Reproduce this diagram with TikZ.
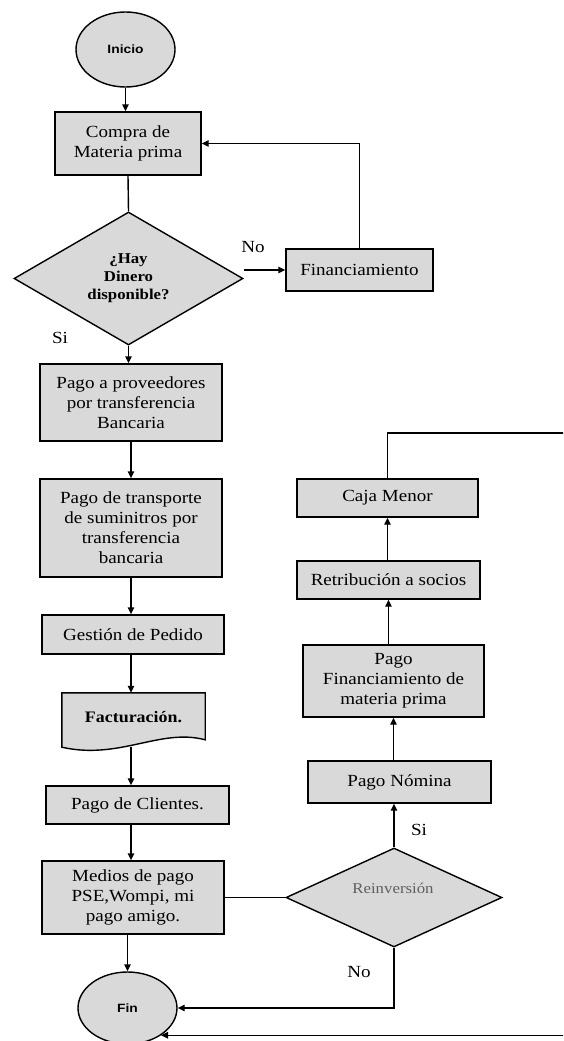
\documentclass[tikz,border=0pt]{standalone}
\usepackage{fontspec}
\setmainfont[FakeStretch=1.12]{Liberation Serif}
\newfontfamily\termfont[FakeStretch=1.15]{Liberation Sans}
\usetikzlibrary{arrows.meta,shapes.geometric}
\definecolor{boxfill}{RGB}{217,217,217}
\definecolor{softtext}{RGB}{95,95,95}
\tikzset{
  base/.style={draw=black, line width=1.4pt, fill=boxfill, inner sep=0pt},
  stepbox/.style={base, rectangle, align=center, font=\fontsize{17}{20}\selectfont},
  terminal/.style={base, ellipse, font=\termfont\bfseries\fontsize{12}{14}\selectfont},
  decision/.style={base, diamond, align=center},
  flow/.style={line width=1.4pt, -{Triangle[length=7pt,width=6.5pt]}},
  link/.style={line width=1.4pt},
  lbl/.style={font=\fontsize{17}{20}\selectfont, inner sep=0pt},
}
\begin{document}
\begin{tikzpicture}[x=1pt,y=-1pt]
\useasboundingbox (0,0) rectangle (563,1041);
\clip (0,0) rectangle (563,1041);
\fill[white] (0,0) rectangle (563,1041);

% main column
\coordinate (col) at (131,0);
\node[terminal, minimum width=99pt, minimum height=75pt] (ini) at (125.5,49.5) {Inicio};
\node[stepbox, minimum width=146pt, minimum height=63pt] (compra) at (128,143.5) {Compra de\\Materia prima};
\node[decision, minimum width=229pt, minimum height=133pt,
      font=\bfseries\fontsize{15}{18}\selectfont] (dia) at (128.5,278.5) {¿Hay\\Dinero\\disponible?};
\node[stepbox, minimum width=147pt, minimum height=42pt] (finan) at (359.5,270) {Financiamiento};
\node[stepbox, minimum width=182pt, minimum height=77pt] (provee) at (131,402.5)
  {Pago a proveedores\\por transferencia\\Bancaria};
\node[stepbox, minimum width=182pt, minimum height=98pt] (transp) at (131,528)
  {Pago de transporte\\de suminitros por\\transferencia\\bancaria};
\node[stepbox, minimum width=182pt, minimum height=39pt] (gestion) at (133,634.5) {Gestión de Pedido};

% document symbol
\node[minimum width=143pt, minimum height=54pt, inner sep=0pt] (fact) at (133.5,720) {};
\draw[base] (fact.north west) -- (fact.north east) -- ++(0,47)
  .. controls +(-45,-12) and +(58,13) .. (fact.south west) -- cycle;
\node[font=\bfseries\fontsize{16}{19}\selectfont, inner sep=0pt] (facttext) at (133.5,717) {Facturación.};

\node[stepbox, minimum width=183pt, minimum height=38pt] (clientes) at (137.5,805) {Pago de Clientes.};
\node[stepbox, minimum width=182pt, minimum height=73pt] (medios) at (133,897.5)
  {Medios de pago\\PSE,Wompi, mi\\pago amigo.};
\node[terminal, minimum width=99pt, minimum height=72pt] (fin) at (127.5,1008) {Fin};

% right column
\node[stepbox, minimum width=181pt, minimum height=38pt] (caja) at (387.5,498) {Caja Menor};
\node[stepbox, minimum width=183pt, minimum height=38pt] (retrib) at (388.5,580) {Retribución a socios};
\node[stepbox, minimum width=181pt, minimum height=72pt] (pagofin) at (393.5,681)
  {Pago\\Financiamiento de\\materia prima};
\node[stepbox, minimum width=183pt, minimum height=42pt] (nomina) at (399.5,782) {Pago Nómina};
\node[decision, minimum width=216pt, minimum height=99pt] (reinv) at (394,897.5) {};
\node[font=\fontsize{15}{18}\selectfont, text=softtext, inner sep=0pt] (reinvtext) at (393,888) {Reinversión};

% connector labels
\node[lbl] (lno1) at (253,247) {No};
\node[lbl] (lsi1) at (60,338) {Si};
\node[lbl] (lsi2) at (419,830) {Si};
\node[lbl] (lno2) at (359,972) {No};

% connectors, main column
\draw[flow] (ini.south) -- (ini.south |- compra.north);
\draw[link] (compra.south) -- (dia.north);
\draw[flow] (finan.west -| dia.east) -- (finan.west);
\draw[flow] (finan.north) |- (compra.east);
\draw[flow] (dia.south) -- (dia.south |- provee.north);
\draw[flow] (provee.south -| col) -- (transp.north -| col);
\draw[flow] (transp.south -| col) -- (gestion.north -| col);
\draw[flow] (gestion.south -| col) -- (fact.north -| col);
\draw[flow] (fact.south -| col) -- (clientes.north -| col);
\draw[flow] (clientes.south -| col) -- (medios.north -| col);
\draw[flow] (medios.south -| fin.north) -- (fin.north);
\draw[link] (medios.east) -- (reinv.west);

% connectors, right column
\draw[flow] (reinv.north) -- (reinv.north |- nomina.south);
\draw[flow] (pagofin.south |- nomina.north) -- (pagofin.south);
\draw[flow] (retrib.south |- pagofin.north) -- (retrib.south);
\draw[flow] (caja.south |- retrib.north) -- (caja.south);
\draw[flow] (reinv.south) |- (fin.east);

% return loop from Caja Menor round the right edge back to Fin
\coordinate (loopR) at (590,433);
\coordinate (loopB) at (590,1035);
\draw[flow] (caja.north) |- (loopR) -- (fin.-39.5 -| loopB) -- (fin.-39.5);
\end{tikzpicture}
\end{document}
